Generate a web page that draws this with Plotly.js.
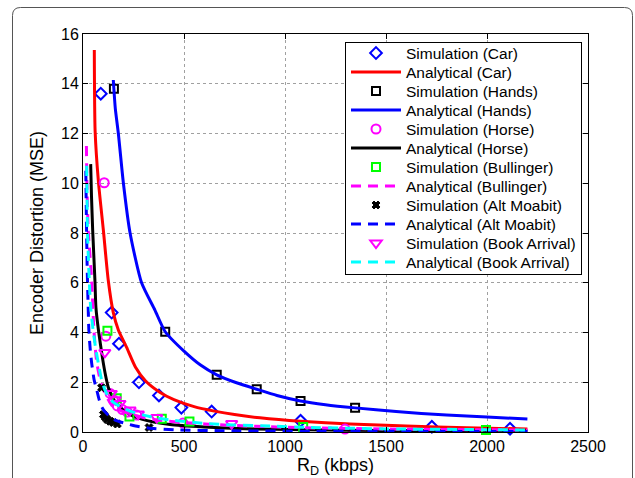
<!DOCTYPE html>
<html>
<head>
<meta charset="utf-8">
<script src="https://cdn.plot.ly/plotly-3.0.1.min.js"></script>
<style>html,body{margin:0;padding:0;background:#fff;}#chart{width:635px;height:478px;}</style>
</head>
<body>
<div id="chart"></div>
<script>
// ---- data ----
var carSimX = [88, 142, 178, 277, 376, 487, 637, 1077, 1727, 2114];
var carSimY = [13.6, 4.8, 3.55, 2.0, 1.47, 0.98, 0.82, 0.45, 0.21, 0.13];
var carAnaX = [56, 60, 76, 101, 125, 150, 175, 216, 260, 310, 380, 450, 550, 650, 750, 876, 1077, 1322, 1600, 1900, 2200];
var carAnaY = [15.36, 12.1, 10.1, 8.1, 6.1, 4.8, 4.1, 3.4, 2.6, 2.05, 1.6, 1.3, 1.02, 0.84, 0.7, 0.57, 0.43, 0.32, 0.24, 0.17, 0.12];

var handsSimX = [153, 407, 662, 860, 1077, 1347];
var handsSimY = [13.8, 4.03, 2.3, 1.72, 1.25, 0.97];
var handsAnaX = [150, 160, 175, 200, 233, 290, 356, 407, 500, 580, 662, 760, 860, 960, 1077, 1200, 1347, 1550, 1800, 2000, 2200];
var handsAnaY = [14.15, 13.0, 12.0, 10.0, 8.0, 6.0, 4.9, 4.03, 3.25, 2.7, 2.3, 1.98, 1.72, 1.47, 1.25, 1.1, 0.97, 0.82, 0.68, 0.6, 0.52];

var horseSimX = [105, 113, 134, 150, 170, 195, 220, 266, 495, 1297];
var horseSimY = [10.02, 3.85, 1.55, 1.3, 1.05, 0.9, 0.8, 0.68, 0.36, 0.12];
var horseAnaX = [38, 42, 48, 59, 64, 78, 96, 111, 125, 140, 160, 190, 230, 290, 431, 600, 800, 1100, 1500, 2200];
var horseAnaY = [10.77, 9.5, 8.1, 6.1, 5.0, 4.0, 3.0, 2.3, 1.8, 1.5, 1.2, 0.95, 0.72, 0.52, 0.3, 0.2, 0.13, 0.09, 0.06, 0.04];

var bullSimX = [121, 167, 230, 390, 527, 1090, 1995];
var bullSimY = [4.07, 1.36, 0.62, 0.53, 0.42, 0.2, 0.08];
var bullAnaX = [17, 19, 26, 43, 54, 68, 85, 101, 125, 142, 180, 224, 300, 373, 500, 700, 1000, 1500, 2200];
var bullAnaY = [11.5, 10.1, 8.1, 6.1, 4.1, 2.8, 2.1, 1.7, 1.3, 1.08, 0.88, 0.75, 0.58, 0.48, 0.38, 0.28, 0.19, 0.12, 0.08];

var altSimX = [92, 101, 110, 120, 135, 150, 170, 327];
var altSimY = [1.78, 0.7, 0.6, 0.5, 0.43, 0.38, 0.32, 0.18];
var altAnaX = [14, 17, 21, 25, 29, 36, 43, 55, 68, 80, 92, 108, 125, 160, 208, 260, 323, 455, 700, 1200, 2200];
var altAnaY = [10.5, 8.5, 6.5, 5.2, 4.1, 3.3, 2.76, 2.1, 1.69, 1.3, 1.02, 0.82, 0.68, 0.48, 0.35, 0.24, 0.16, 0.09, 0.05, 0.03, 0.02];

var bookSimX = [108, 140, 160, 183, 233, 274, 365, 736];
var bookSimY = [3.2, 1.55, 1.3, 1.15, 0.88, 0.72, 0.58, 0.34];
var bookAnaX = [18, 20, 22, 31, 38, 50, 62, 76, 92, 109, 130, 158, 200, 241, 300, 373, 455, 594, 750, 926, 1100, 1322, 1570, 1900, 2200];
var bookAnaY = [10.7, 9.5, 8.1, 6.1, 5.0, 4.1, 3.4, 2.76, 2.1, 1.69, 1.35, 1.15, 0.95, 0.82, 0.68, 0.55, 0.46, 0.35, 0.28, 0.24, 0.19, 0.15, 0.12, 0.1, 0.08];

var xTicks = [0, 500, 1000, 1500, 2000, 2500];
var yTicks = [0, 2, 4, 6, 8, 10, 12, 14, 16];

var names = ['Simulation (Car)', 'Analytical (Car)', 'Simulation (Hands)', 'Analytical (Hands)',
  'Simulation (Horse)', 'Analytical (Horse)', 'Simulation (Bullinger)', 'Analytical (Bullinger)',
  'Simulation (Alt Moabit)', 'Analytical (Alt Moabit)', 'Simulation (Book Arrival)', 'Analytical (Book Arrival)'];

// ---- traces ----
function sim(x, y, name, symbol, color, size) {
  return {x: x, y: y, name: name, type: 'scatter', mode: 'markers', cliponaxis: false,
    marker: {symbol: symbol, size: size, color: color, line: {color: color, width: 2}}};
}
function ana(x, y, name, color, dash) {
  return {x: x, y: y, name: name, type: 'scatter', mode: 'lines',
    line: {color: color, width: 3, dash: dash, shape: 'spline', smoothing: 0.6}};
}
var DASH = '10px,7px';
var traces = [
  sim(carSimX, carSimY, names[0], 'diamond-open', '#0000ff', 9),
  ana(carAnaX, carAnaY, names[1], '#ff0000', 'solid'),
  sim(handsSimX, handsSimY, names[2], 'square-open', '#000000', 8),
  ana(handsAnaX, handsAnaY, names[3], '#0000ff', 'solid'),
  sim(horseSimX, horseSimY, names[4], 'circle-open', '#ff00ff', 9),
  ana(horseAnaX, horseAnaY, names[5], '#000000', 'solid'),
  sim(bullSimX, bullSimY, names[6], 'square-open', '#00ff00', 8),
  ana(bullAnaX, bullAnaY, names[7], '#ff00ff', DASH),
  sim(altSimX, altSimY, names[8], 'x', '#000000', 7),
  ana(altAnaX, altAnaY, names[9], '#0000ff', DASH),
  sim(bookSimX, bookSimY, names[10], 'triangle-down-open', '#ff00ff', 10),
  ana(bookAnaX, bookAnaY, names[11], '#00ffff', DASH)
];
traces[8].marker.line.width = 1;

// ---- figure frame (rounded rectangle around the figure) ----
var L = 83, R = 588, T = 34, B = 432, W = R - L, H = B - T;
function px(v) { return (v - L) / W; }
function py(v) { return (B - v) / H; }
var fl = px(12.5), fr = px(632.5), ft = py(7.5), fb = py(520);
var rx = 8 / W, ry = 8 / H;
var framePath = 'M ' + fl + ',' + fb + ' L ' + fl + ',' + (ft - ry) +
  ' Q ' + fl + ',' + ft + ' ' + (fl + rx) + ',' + ft +
  ' L ' + (fr - rx) + ',' + ft +
  ' Q ' + fr + ',' + ft + ' ' + fr + ',' + (ft - ry) +
  ' L ' + fr + ',' + fb;

var LEG_TOP = 42, LEG_ROW = 19, LEG_FIRST = 11, LEG_H = 232;
var FONT = '"Liberation Sans", Arial, Helvetica, sans-serif';
var layout = {
  width: 635, height: 478,
  margin: {l: L, r: 635 - R, t: T, b: 478 - B},
  paper_bgcolor: '#ffffff', plot_bgcolor: '#ffffff',
  font: {family: FONT, color: '#000000', size: 16},
  showlegend: true,
  legend: {
    x: px(582), xanchor: 'right', y: py(LEG_TOP), yanchor: 'top',
    bgcolor: '#ffffff', bordercolor: '#000000', borderwidth: 1,
    font: {family: FONT, size: 15.5, color: '#000000'},
    tracegroupgap: 0, itemwidth: 50
  },
  xaxis: {
    range: [0, 2500], tickvals: xTicks, ticktext: xTicks.map(String),
    showline: true, linecolor: '#000000', linewidth: 1, mirror: 'ticks',
    ticks: 'inside', ticklen: 5, tickcolor: '#000000',
    showgrid: true, gridcolor: '#a0a0a0', griddash: 'dot', gridwidth: 1,
    zeroline: false, tickfont: {size: 16},
    title: {text: 'R<sub>D</sub> (kbps)', font: {size: 18}, standoff: 10}
  },
  yaxis: {
    range: [0, 16], tickvals: yTicks, ticktext: yTicks.map(String),
    showline: true, linecolor: '#000000', linewidth: 1, mirror: 'ticks',
    ticks: 'inside', ticklen: 5, tickcolor: '#000000',
    showgrid: true, gridcolor: '#a0a0a0', griddash: 'dot', gridwidth: 1,
    zeroline: false, tickfont: {size: 16},
    title: {text: 'Encoder Distortion (MSE)', font: {size: 18}, standoff: 12}
  },
  shapes: [{type: 'path', xref: 'paper', yref: 'paper', path: framePath,
    line: {color: '#555555', width: 1}, layer: 'below'}]
};

Plotly.newPlot('chart', traces, layout, {displayModeBar: false, staticPlot: true}).then(function (gd) {
  // tighten the legend rows to the reference's row pitch
  var items = gd.querySelectorAll('.legend .traces');
  items.forEach(function (t, i) {
    var m = /translate\(\s*([-\d.]+)[ ,]+([-\d.]+)\s*\)/.exec(t.getAttribute('transform') || '');
    var x0 = m ? m[1] : 0;
    t.setAttribute('transform', 'translate(' + x0 + ',' + (LEG_FIRST + i * LEG_ROW) + ')');
  });
  var bg = gd.querySelector('.legend rect.bg');
  if (bg) bg.setAttribute('height', LEG_H);
});
</script>
</body>
</html>
